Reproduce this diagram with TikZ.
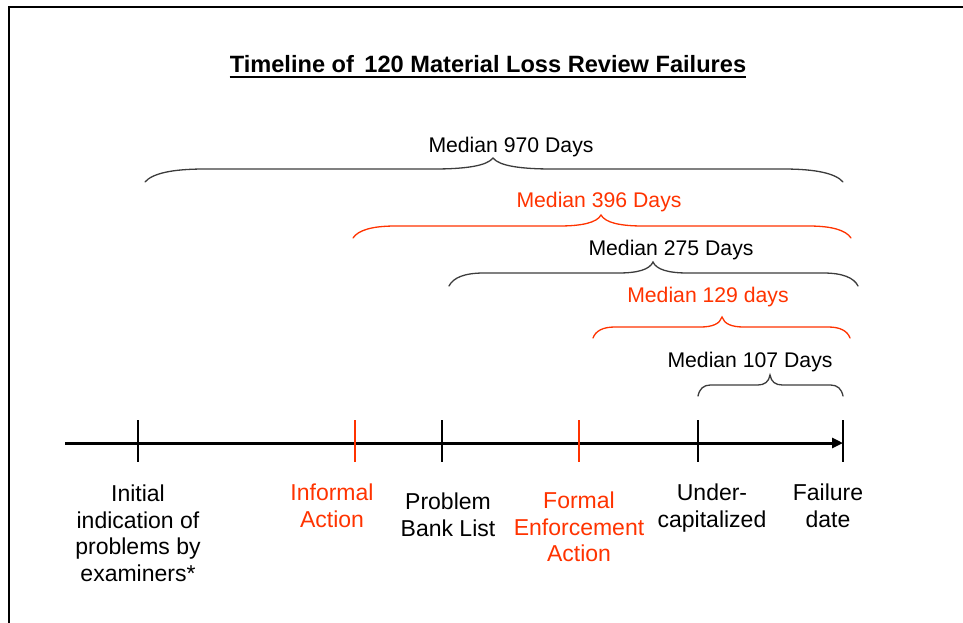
\documentclass[tikz,border=0pt]{standalone}
\usepackage{fontspec}
\setmainfont{Liberation Sans}
\usetikzlibrary{arrows.meta}
\definecolor{redo}{RGB}{255,51,0}
\definecolor{brgray}{RGB}{60,60,60}
% #1 x1, #2 x2, #3 cusp x, #4 end y, #5 line y, #6 cusp y, #7 colour
\newcommand\mybrace[7]{%
  \pgfmathsetmacro\bs{0.085*(#2-#1)}%
  \draw[bracestyle,#7] (#1,#4)
    .. controls ({#1+0.12*\bs},{#5+0.35*(#4-#5)}) and ({#1+0.45*\bs},#5) .. ({#1+\bs},#5)
    -- ({#3-\bs},#5)
    .. controls ({#3-0.45*\bs},#5) and ({#3-0.1*\bs},{#5-0.3*(#5-#6)}) .. (#3,#6)
    .. controls ({#3+0.1*\bs},{#5-0.3*(#5-#6)}) and ({#3+0.45*\bs},#5) .. ({#3+\bs},#5)
    -- ({#2-\bs},#5)
    .. controls ({#2-0.45*\bs},#5) and ({#2-0.12*\bs},{#5+0.35*(#4-#5)}) .. (#2,#4);}
\tikzset{
  bracestyle/.style={line width=1.3pt, line cap=round},
  medlabel/.style={anchor=base, inner sep=0pt, font=\fontsize{21.2}{25}\selectfont},
  botlabel/.style={anchor=north, inner sep=0pt, align=center, font=\fontsize{23}{26.5}\selectfont},
  tick/.style={line width=1.5pt},
}
\begin{document}
\begin{tikzpicture}[x=1pt,y=-1pt]
\useasboundingbox (0,0) rectangle (963,622);
% frame
\draw[line width=2.5pt] (9,630) -- (9,7) -- (970,7);
% title
\node[anchor=base, inner sep=0pt, font=\fontsize{23.6}{28}\selectfont\bfseries] (title) at (488,72) {Timeline of\, 120 Material Loss Review Failures};
\draw[line width=1.8pt] ([yshift=-5pt]title.base west) -- ([yshift=-5pt]title.base east);
% timeline
\coordinate (tstart) at (65,443);
\coordinate (tend) at (843,443);
\draw[line width=3pt, -{Triangle[length=11pt,width=10pt]}] (tstart) -- (tend);
\foreach \n/\x/\c in {t1/138/black, t2/355/redo, t3/442/black, t4/579/redo, t5/698/black, t6/843/black} {
  \coordinate (\n a) at (\x,420);
  \coordinate (\n b) at (\x,462);
  \draw[tick,\c] (\n a) -- (\n b);
}
% braces
\mybrace{145}{843}{493}{182}{169}{158}{brgray}
\mybrace{353}{851}{601}{238}{226}{215}{redo}
\mybrace{449}{858}{653}{286}{273}{262}{brgray}
\mybrace{593}{850}{722}{338}{327}{317}{redo}
\mybrace{698}{843}{770}{396}{385}{375}{brgray}
% median labels
\node[medlabel] (m970) at (511,152) {Median 970 Days};
\node[medlabel, text=redo] (m396) at (599,207) {Median 396 Days};
\node[medlabel] (m275) at (671,255) {Median 275 Days};
\node[medlabel, text=redo] (m129) at (708,302) {Median 129 days};
\node[medlabel] (m107) at (750,367) {Median 107 Days};
% bottom labels (north anchor = first line top, about 17 above its baseline)
\node[botlabel] (l1) at (138,485) {Initial\\indication of\\problems by\\examiners*};
\node[botlabel, text=redo] (l2) at (332,484) {Informal\\Action};
\node[botlabel] (l3) at (448,493) {Problem\\Bank List};
\node[botlabel, text=redo] (l4) at (579,492) {Formal\\Enforcement\\Action};
\node[botlabel] (l5) at (712,484) {Under-\\capitalized};
\node[botlabel] (l6) at (828,484) {Failure\\date};
\end{tikzpicture}
\end{document}
